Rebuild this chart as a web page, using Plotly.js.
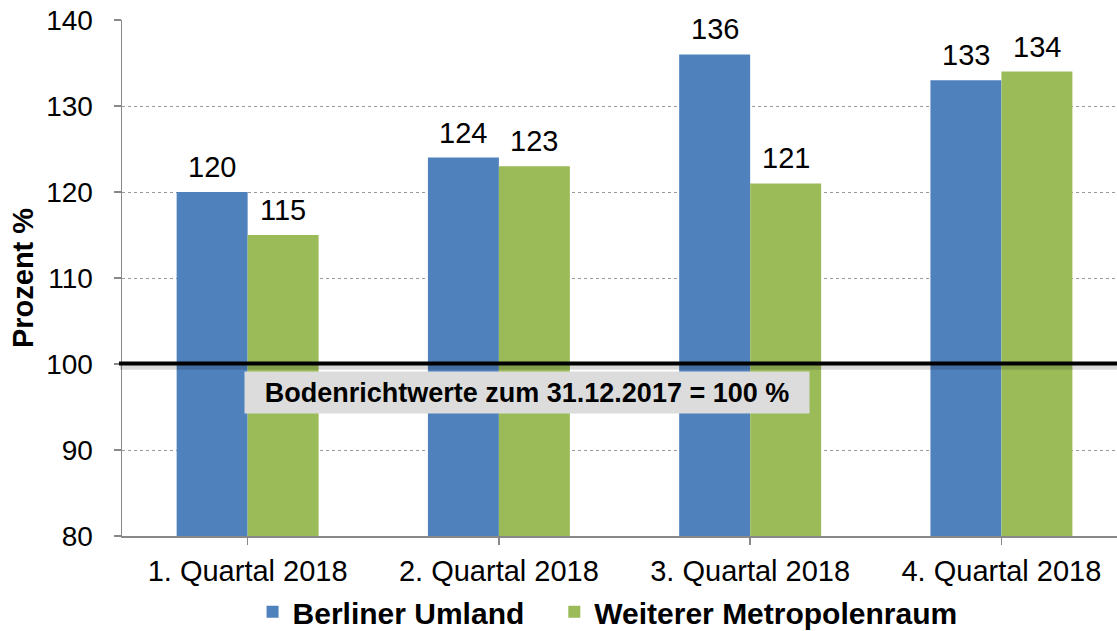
<!DOCTYPE html>
<html>
<head>
<meta charset="utf-8">
<script src="https://cdn.plot.ly/plotly-3.0.1.min.js"></script>
<style>html,body{margin:0;padding:0;background:#fff;}#chart{width:1117px;height:631px;}</style>
</head>
<body>
<div id="chart"></div>
<script>
const categories = ["1. Quartal 2018", "2. Quartal 2018", "3. Quartal 2018", "4. Quartal 2018"];
const berlinerUmland = [120, 124, 136, 133];
const weitererMetropolenraum = [115, 123, 121, 134];
const seriesNames = ["Berliner Umland", "Weiterer Metropolenraum"];
const baseValue = 100;
const baseLabel = "Bodenrichtwerte zum 31.12.2017 = 100 %";
const yTicks = [80, 90, 100, 110, 120, 130, 140];

const blue = "#4f81bd", green = "#9bbb59";
const FONT = "Liberation Sans, Arial, sans-serif";
const xIdx = categories.map((c, i) => i);

const traces = [
  {type: "bar", name: seriesNames[0] + "&nbsp;&nbsp;&nbsp;", x: xIdx, y: berlinerUmland, marker: {color: blue}, hoverinfo: "none"},
  {type: "bar", name: seriesNames[1], x: xIdx, y: weitererMetropolenraum, marker: {color: green}, hoverinfo: "none"}
];

const labelFont = {family: FONT, size: 29, color: "#000"};
const annotations = [];
const half = 0.1415;
[berlinerUmland, weitererMetropolenraum].forEach((arr, s) => {
  arr.forEach((v, i) => {
    annotations.push({
      x: i + (s === 0 ? -half : half), y: v, xref: "x", yref: "y",
      text: String(v), showarrow: false, yanchor: "bottom", yshift: 7,
      font: labelFont
    });
  });
});
annotations.push({
  x: 1.112, y: 96.7, xref: "x", yref: "y", text: "<b>" + baseLabel + "</b>",
  showarrow: false, bgcolor: "#dcdcdc", width: 562, height: 39,
  font: {family: FONT, size: 27, color: "#000"}
});

const layout = {
  width: 1117, height: 631,
  margin: {l: 122, r: 0, t: 20, b: 95, autoexpand: false},
  paper_bgcolor: "#fff", plot_bgcolor: "#fff",
  barmode: "group", bargap: 0.435, bargroupgap: 0,
  showlegend: true,
  legend: {orientation: "h", x: 0.488, xanchor: "center", y: -0.147, yanchor: "middle",
    font: {family: FONT, size: 30, color: "#000", weight: "bold"},
    itemwidth: 30, tracegroupgap: 0},
  xaxis: {
    range: [-0.5, 3.46], tickmode: "array", tickvals: xIdx, ticktext: categories,
    tickson: "boundaries", ticks: "outside", ticklen: 7, tickcolor: "#888", tickwidth: 1.5,
    showline: true, linecolor: "#888", linewidth: 1.5, showgrid: false, zeroline: false,
    tickfont: labelFont, ticklabelstandoff: 2, fixedrange: true
  },
  yaxis: {
    range: [80, 140], tickmode: "array", tickvals: yTicks,
    ticks: "outside", ticklen: 7, tickcolor: "#888", tickwidth: 1.5,
    showline: true, linecolor: "#888", linewidth: 1.5,
    showgrid: true, gridcolor: "#999", griddash: "dot", gridwidth: 1, zeroline: false,
    tickfont: {family: FONT, size: 28, color: "#000"}, ticklabelstandoff: 15,
    title: {text: "<b>Prozent %</b>", font: {family: FONT, size: 29, color: "#000"}, standoff: 4},
    fixedrange: true
  },
  shapes: [
    {type: "line", xref: "paper", yref: "y", x0: -0.002, x1: 1, y0: baseValue - 0.25, y1: baseValue - 0.25,
     line: {color: "rgba(0,0,0,0.15)", width: 7}, layer: "above"},
    {type: "line", xref: "paper", yref: "y", x0: -0.003, x1: 1, y0: baseValue + 0.05, y1: baseValue + 0.05,
     line: {color: "#000", width: 4}, layer: "above"}
  ],
  annotations: annotations
};

Plotly.newPlot("chart", traces, layout, {displayModeBar: false, staticPlot: true});
</script>
</body>
</html>
